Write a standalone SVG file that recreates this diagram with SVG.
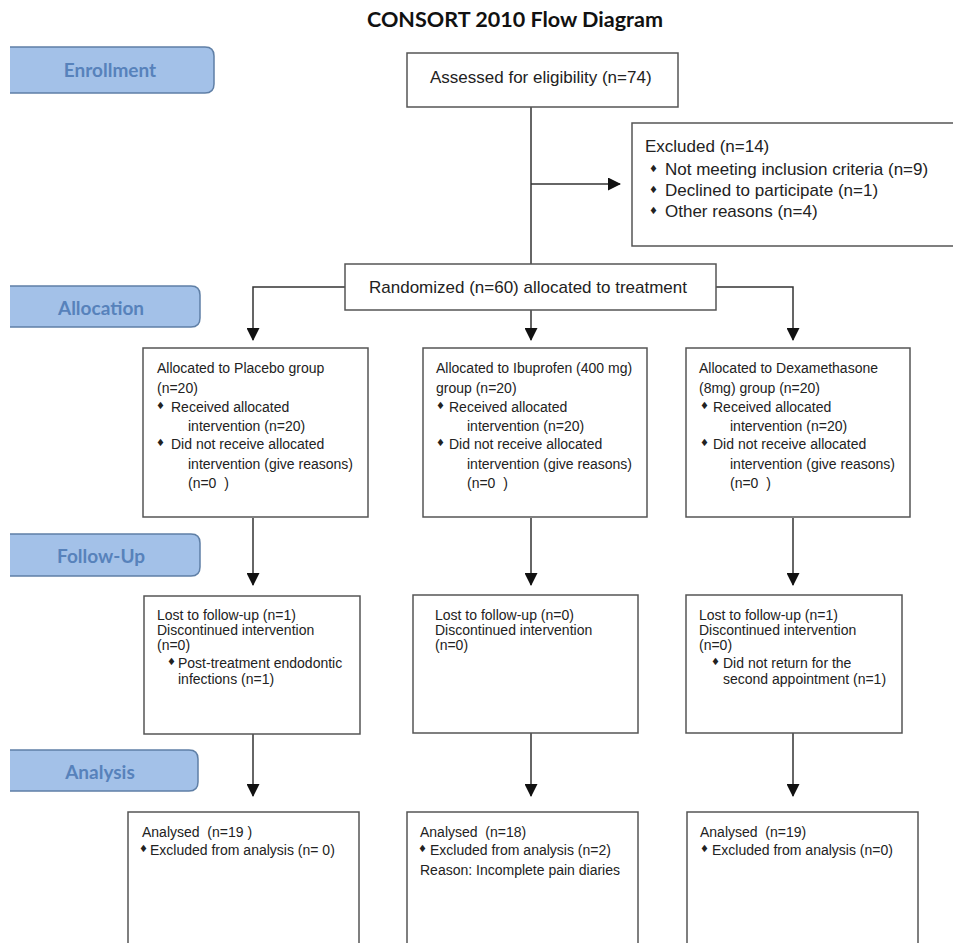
<svg xmlns="http://www.w3.org/2000/svg" width="953" height="943" viewBox="0 0 953 943">
<defs>
<marker id="arr" markerWidth="13" markerHeight="13" refX="12" refY="6.5" orient="auto" markerUnits="userSpaceOnUse">
<path d="M0,0 L13,6.5 L0,13 Z" fill="#111"/>
</marker>
<style>
text{white-space:pre}
.box{fill:#fff;stroke:#555;stroke-width:1.5}
.tab{fill:#a3c1e8;stroke:#5f7fa6;stroke-width:1.5}
.tabt{font-family:Lato,"Open Sans",sans-serif;font-weight:bold;font-size:19px;fill:#5782bb;text-anchor:middle}
.t17{font-family:"Liberation Sans",Arial,sans-serif;font-size:17px;fill:#222}
.t14{font-family:"Liberation Sans",Arial,sans-serif;font-size:14px;fill:#222}
.b{font-family:"DejaVu Sans",sans-serif;font-size:10px;fill:#222}
.c{fill:none;stroke:#333;stroke-width:1.5}
</style>
</defs>
<rect width="953" height="943" fill="#fff"/>
<text x="515" y="27" font-family="Lato,'Open Sans',sans-serif" font-weight="bold" font-size="20" fill="#111" text-anchor="middle" textLength="296" lengthAdjust="spacingAndGlyphs">CONSORT 2010 Flow Diagram</text>
<g id="tab-enrollment"><path class="tab" d="M10,47 H205 Q214,47 214,56 V84 Q214,93 205,93 H10"/><text class="tabt" x="110" y="77">Enrollment</text></g>
<g id="tab-allocation"><path class="tab" d="M10,286 H191 Q200,286 200,295 V318 Q200,327 191,327 H10"/><text class="tabt" x="101" y="315">Allocation</text></g>
<g id="tab-followup"><path class="tab" d="M10,534 H191 Q200,534 200,543 V567 Q200,576 191,576 H10"/><text class="tabt" x="101" y="563">Follow-Up</text></g>
<g id="tab-analysis"><path class="tab" d="M10,750 H189 Q198,750 198,759 V782 Q198,791 189,791 H10"/><text class="tabt" x="100" y="779">Analysis</text></g>
<g id="connectors">
<line class="c" x1="531" y1="107" x2="531" y2="264"/>
<line class="c" x1="531" y1="184" x2="620" y2="184" marker-end="url(#arr)"/>
<polyline class="c" points="345,287 253,287 253,340" marker-end="url(#arr)"/>
<line class="c" x1="531" y1="310" x2="531" y2="340" marker-end="url(#arr)"/>
<polyline class="c" points="716,287 793,287 793,340" marker-end="url(#arr)"/>
<line class="c" x1="253" y1="518" x2="253" y2="585" marker-end="url(#arr)"/>
<line class="c" x1="531" y1="518" x2="531" y2="585" marker-end="url(#arr)"/>
<line class="c" x1="793" y1="518" x2="793" y2="585" marker-end="url(#arr)"/>
<line class="c" x1="253" y1="734" x2="253" y2="796" marker-end="url(#arr)"/>
<line class="c" x1="531" y1="733" x2="531" y2="796" marker-end="url(#arr)"/>
<line class="c" x1="793" y1="733" x2="793" y2="796" marker-end="url(#arr)"/>
</g>
<g id="assessed"><rect class="box" x="407" y="53" width="271" height="54"/><text class="t17" x="430" y="83">Assessed for eligibility (n=74)</text></g>
<g id="excluded">
<rect class="box" x="632" y="123" width="330" height="123"/>
<text class="t17" x="645" y="152">Excluded (n=14)</text>
<text class="b" x="649" y="172">♦</text><text class="t17" x="665" y="175">Not meeting inclusion criteria (n=9)</text>
<text class="b" x="649" y="193">♦</text><text class="t17" x="665" y="196">Declined to participate (n=1)</text>
<text class="b" x="649" y="214">♦</text><text class="t17" x="665" y="217">Other reasons (n=4)</text>
</g>
<g id="randomized"><rect class="box" x="345" y="264" width="371" height="46"/><text class="t17" x="369" y="293">Randomized (n=60) allocated to treatment</text></g>
<g id="alloc-placebo">
<rect class="box" x="143" y="348" width="225" height="169"/>
<text class="t14" x="157" y="373">Allocated to Placebo group</text>
<text class="t14" x="157" y="393">(n=20)</text>
<text class="b" x="156" y="409">♦</text><text class="t14" x="171" y="412">Received allocated</text>
<text class="t14" x="188" y="431">intervention (n=20)</text>
<text class="b" x="156" y="446">♦</text><text class="t14" x="171" y="449">Did not receive allocated</text>
<text class="t14" x="188" y="469">intervention (give reasons)</text>
<text class="t14" x="188" y="488">(n=0  )</text>
</g>
<g id="alloc-ibuprofen">
<rect class="box" x="423" y="348" width="224" height="169"/>
<text class="t14" x="436" y="373">Allocated to Ibuprofen (400 mg)</text>
<text class="t14" x="436" y="393">group (n=20)</text>
<text class="b" x="436" y="409">♦</text><text class="t14" x="449" y="412">Received allocated</text>
<text class="t14" x="467" y="431">intervention (n=20)</text>
<text class="b" x="436" y="446">♦</text><text class="t14" x="449" y="449">Did not receive allocated</text>
<text class="t14" x="467" y="469">intervention (give reasons)</text>
<text class="t14" x="467" y="488">(n=0  )</text>
</g>
<g id="alloc-dexamethasone">
<rect class="box" x="686" y="348" width="224" height="169"/>
<text class="t14" x="699" y="373">Allocated to Dexamethasone</text>
<text class="t14" x="699" y="393">(8mg) group (n=20)</text>
<text class="b" x="700" y="409">♦</text><text class="t14" x="713" y="412">Received allocated</text>
<text class="t14" x="730" y="431">intervention (n=20)</text>
<text class="b" x="700" y="446">♦</text><text class="t14" x="713" y="449">Did not receive allocated</text>
<text class="t14" x="730" y="469">intervention (give reasons)</text>
<text class="t14" x="730" y="488">(n=0  )</text>
</g>
<g id="fu-placebo">
<rect class="box" x="144" y="596" width="216" height="138"/>
<text class="t14" x="157" y="620">Lost to follow-up (n=1)</text>
<text class="t14" x="157" y="635">Discontinued intervention</text>
<text class="t14" x="157" y="650">(n=0)</text>
<text class="b" x="167" y="665">♦</text><text class="t14" x="178" y="668">Post-treatment endodontic</text>
<text class="t14" x="178" y="684">infections (n=1)</text>
</g>
<g id="fu-ibuprofen">
<rect class="box" x="413" y="595" width="225" height="138"/>
<text class="t14" x="435" y="620">Lost to follow-up (n=0)</text>
<text class="t14" x="435" y="635">Discontinued intervention</text>
<text class="t14" x="435" y="650">(n=0)</text>
</g>
<g id="fu-dexamethasone">
<rect class="box" x="686" y="595" width="216" height="138"/>
<text class="t14" x="699" y="620">Lost to follow-up (n=1)</text>
<text class="t14" x="699" y="635">Discontinued intervention</text>
<text class="t14" x="699" y="650">(n=0)</text>
<text class="b" x="711" y="665">♦</text><text class="t14" x="723" y="668">Did not return for the</text>
<text class="t14" x="723" y="684">second appointment (n=1)</text>
</g>
<g id="an-placebo">
<rect class="box" x="128" y="812" width="231" height="150"/>
<text class="t14" x="142" y="837">Analysed  (n=19 )</text>
<text class="b" x="139" y="852">♦</text><text class="t14" x="150" y="855">Excluded from analysis (n= 0)</text>
</g>
<g id="an-ibuprofen">
<rect class="box" x="407" y="812" width="231" height="150"/>
<text class="t14" x="420" y="837">Analysed  (n=18)</text>
<text class="b" x="418" y="852">♦</text><text class="t14" x="430" y="855">Excluded from analysis (n=2)</text>
<text class="t14" x="420" y="875">Reason: Incomplete pain diaries</text>
</g>
<g id="an-dexamethasone">
<rect class="box" x="687" y="812" width="231" height="150"/>
<text class="t14" x="700" y="837">Analysed  (n=19)</text>
<text class="b" x="700" y="852">♦</text><text class="t14" x="712" y="855">Excluded from analysis (n=0)</text>
</g>
</svg>
